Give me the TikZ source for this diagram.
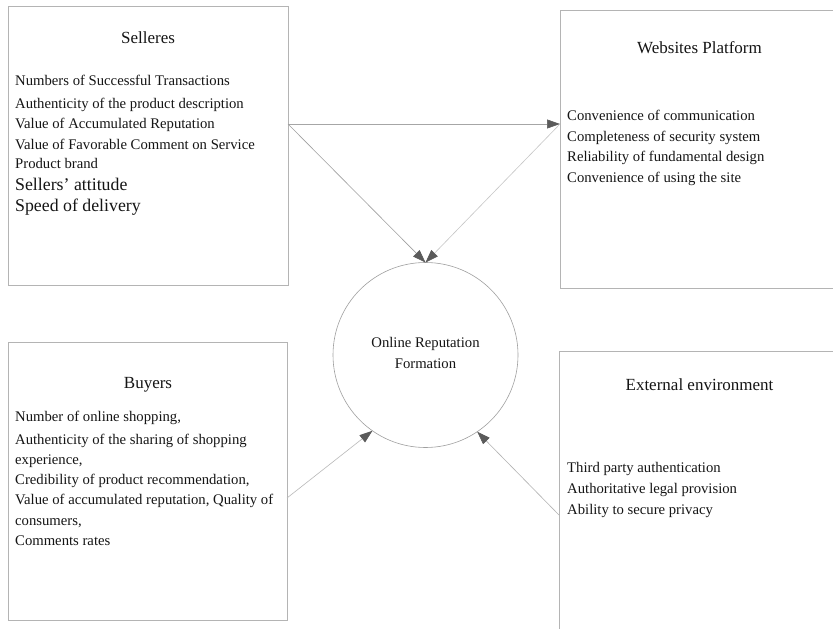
\documentclass[tikz,border=0pt]{standalone}
\usepackage{fontspec}
\setmainfont{Liberation Serif}
\usetikzlibrary{arrows.meta}
\definecolor{txt}{HTML}{151515}
\definecolor{boxline}{HTML}{B4B4B4}
\definecolor{tipc}{HTML}{5A5A5A}
\tikzset{
  box/.style={draw=boxline, line width=0.7bp, rectangle, inner sep=0pt, outer sep=0pt},
  ring/.style={draw=gray!75, line width=0.6bp, circle, inner sep=0pt, outer sep=0pt, minimum size=185bp},
  ttl/.style={text=txt, font=\fontsize{17bp}{20bp}\selectfont, inner sep=0pt},
  item/.style={text=txt, font=\fontsize{14.7bp}{20bp}\selectfont, anchor=west, inner sep=0pt, text height=0.7em, text depth=0.2em},
  bigitem/.style={item, font=\fontsize{17.8bp}{21bp}\selectfont},
  conn/.style={line width=0.6bp, -{Triangle[length=13bp,width=9bp,color=tipc]}},
}
\begin{document}
\begin{tikzpicture}[x=1bp,y=-1bp]
\useasboundingbox (0,0) rectangle (833,629);
\fill[white] (0,0) rectangle (833,629);
% boxes
\node[box, minimum width=280bp, minimum height=279bp] (sel) at (148,145.5) {};
\node[box, minimum width=280bp, minimum height=278bp] (web) at (700,149) {};
\node[box, minimum width=279bp, minimum height=278bp] (buy) at (147.5,481) {};
\node[box, minimum width=280bp, minimum height=289bp] (ext) at (699,495.5) {};
\node[ring] (c) at (425.5,355) {};
% circle text
\node[item, anchor=center] (c1) at (425.5,345) {Online Reputation};
\node[item, anchor=center] (c2) at (425.5,366) {Formation};
% Sellers
\node[ttl] (st) at (148,38) {Selleres};
\node[item] (s1) at (15,83) {Numbers of Successful Transactions};
\node[item] (s2) at (15,106) {Authenticity of the product description};
\node[item] (s3) at (15,126) {Value of Accumulated Reputation};
\node[item] (s4) at (15,147) {Value of Favorable Comment on Service};
\node[item] (s5) at (15,166) {Product brand};
\node[bigitem] (s6) at (15,188) {Sellers’ attitude};
\node[bigitem] (s7) at (15,209) {Speed of delivery};
% Websites
\node[ttl] (wt) at (699.5,48) {Websites Platform};
\node[item] (w1) at (567,118) {Convenience of communication};
\node[item] (w2) at (567,139) {Completeness of security system};
\node[item] (w3) at (567,159) {Reliability of fundamental design};
\node[item] (w4) at (567,180) {Convenience of using the site};
% Buyers
\node[ttl] (bt) at (148,385) {Buyers};
\node[item] (b1) at (15,419) {Number of online shopping,};
\node[item] (b2) at (15,442) {Authenticity of the sharing of shopping};
\node[item] (b3) at (15,462) {experience,};
\node[item] (b4) at (15,482) {Credibility of product recommendation,};
\node[item] (b5) at (15,502) {Value of accumulated reputation, Quality of};
\node[item] (b6) at (15,523) {consumers,};
\node[item] (b7) at (15,543) {Comments rates};
% External
\node[ttl] (et) at (699.5,385) {External environment};
\node[item] (e1) at (567,470) {Third party authentication};
\node[item] (e2) at (567,491) {Authoritative legal provision};
\node[item] (e3) at (567,512) {Ability to secure privacy};
% connector ends
\coordinate (selR) at (288,124);
\coordinate (webL) at (560,124);
\coordinate (buyR) at (287,498);
\coordinate (extL) at (559,515);
% connectors
\draw[conn, draw=gray!70] (selR) -- (webL);
\draw[conn, draw=gray!75] (selR) -- (c.north);
\draw[conn, draw=gray!45] (webL) -- (c.north);
\draw[conn, draw=gray!55] (buyR) -- (c.235);
\draw[conn, draw=gray!60] (extL) -- (c.304);
\end{tikzpicture}
\end{document}
